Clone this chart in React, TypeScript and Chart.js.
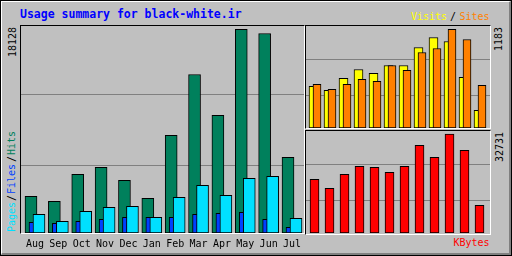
import React, { useEffect, useRef } from 'react';
import { Chart, registerables } from 'chart.js';

Chart.register(...registerables);

// ---------- data ----------
const months = ['Aug', 'Sep', 'Oct', 'Nov', 'Dec', 'Jan', 'Feb', 'Mar', 'Apr', 'May', 'Jun', 'Jul'];
const hits = [3263, 2818, 5218, 5841, 4685, 3085, 8685, 14108, 10464, 18128, 17753, 6730];
const files = [951, 862, 1040, 1218, 1396, 1396, 1396, 1662, 1751, 1840, 1218, 507];
const pages = [1662, 1040, 1929, 2285, 2374, 1396, 3174, 4241, 3352, 4863, 5041, 1307];
const visits = [498, 451, 594, 701, 654, 749, 749, 964, 1084, 1036, 606, 212];
const sites = [522, 462, 522, 582, 558, 749, 690, 905, 952, 1183, 1060, 510];
const kbytes = [17753, 14778, 19406, 22051, 21720, 20067, 22051, 28994, 25026, 32731, 27341, 9158];

const maxHits = Math.max(...hits);
const maxSites = Math.max(...sites, ...visits);
const maxKbytes = Math.max(...kbytes);

// ---------- style ----------
const GREY = '#C0C0C0';
const DKGREY = '#808080';
const C_HITS = '#00805C';
const C_FILES = '#0040FF';
const C_PAGES = '#00E0FF';
const C_VISITS = '#FFFF00';
const C_SITES = '#FF8000';
const C_KBYTES = '#FF0000';
const MONO = '"DejaVu Sans Mono", "Liberation Mono", monospace';

type Series = { label: string; values: number[]; color: string; shift: number; thickness: number; order: number };

function buildConfig(opts: {
  series: Series[];
  yMax: number;
  grid: number[];
  spacing: number;
  width: number;
  firstCenter: number;
  labelHeight?: number;
}): any {
  const { series, yMax, grid, spacing, width, firstCenter, labelHeight } = opts;
  const scales: any = {
    y: {
      type: 'linear',
      min: 0,
      max: yMax,
      display: true,
      offset: false,
      border: { display: false },
      grid: { color: DKGREY, lineWidth: 1, drawTicks: false },
      ticks: { display: false },
      afterBuildTicks: (axis: any) => {
        axis.ticks = grid.map((f) => ({ value: f * yMax }));
      },
      afterFit: (s: any) => {
        s.width = 0;
      },
    },
  };
  const datasets = series.map((s, k) => {
    const id = 'x' + k;
    const min = -(firstCenter + s.shift) / spacing;
    const showLabels = labelHeight !== undefined && s.shift === 0;
    scales[id] = {
      type: 'linear',
      position: 'bottom',
      offset: false,
      min,
      max: min + width / spacing,
      display: showLabels,
      grid: { display: false, offset: false },
      border: { display: false },
      afterBuildTicks: (axis: any) => {
        axis.ticks = months.map((_, i) => ({ value: i }));
      },
      ticks: {
        autoSkip: false,
        maxRotation: 0,
        minRotation: 0,
        padding: -3,
        color: '#000',
        font: { family: MONO, size: 10 },
        callback: (v: number) => months[v],
      },
      afterFit: (sc: any) => {
        if (showLabels) sc.height = labelHeight;
      },
    };
    return {
      label: s.label,
      data: s.values.map((v, i) => ({ x: i, y: v })),
      xAxisID: id,
      backgroundColor: s.color,
      borderColor: '#000',
      borderWidth: 1,
      borderSkipped: false,
      barThickness: s.thickness,
      order: s.order,
      grouped: false,
    };
  });
  return {
    type: 'bar',
    data: { datasets },
    options: {
      animation: false,
      responsive: false,
      maintainAspectRatio: false,
      devicePixelRatio: 1,
      layout: { padding: 0 },
      plugins: { legend: { display: false }, tooltip: { enabled: false }, title: { display: false } },
      scales,
    },
  };
}

function BarCanvas(props: { left: number; top: number; width: number; height: number; make: () => any }) {
  const ref = useRef<HTMLCanvasElement>(null);
  useEffect(() => {
    const chart = new Chart(ref.current as HTMLCanvasElement, props.make());
    return () => chart.destroy();
  }, []);
  return (
    <canvas
      ref={ref}
      width={props.width}
      height={props.height}
      style={{ position: 'absolute', left: props.left, top: props.top, width: props.width, height: props.height }}
    />
  );
}

function Panel(props: { left: number; top: number; width: number; height: number }) {
  return (
    <div
      style={{
        position: 'absolute',
        left: props.left,
        top: props.top,
        width: props.width,
        height: props.height,
        boxSizing: 'border-box',
        borderTop: '1px solid #000',
        borderLeft: '1px solid #000',
        borderRight: '1px solid #FFF',
        borderBottom: '1px solid #FFF',
        background: GREY,
      }}
    />
  );
}

function HText(props: { left: number; top: number; color: string; size?: number; bold?: boolean; children: any }) {
  const size = props.size ?? 10;
  return (
    <div
      style={{
        position: 'absolute',
        left: props.left,
        top: props.top,
        color: props.color,
        fontFamily: MONO,
        fontSize: size,
        lineHeight: size + 'px',
        fontWeight: props.bold ? 'bold' : 'normal',
        whiteSpace: 'nowrap',
      }}
    >
      {props.children}
    </div>
  );
}

function VText(props: { left: number; start: number; color: string; children: any }) {
  return (
    <div
      style={{
        position: 'absolute',
        left: props.left,
        top: props.start,
        color: props.color,
        fontFamily: MONO,
        fontSize: 10,
        lineHeight: '10px',
        whiteSpace: 'nowrap',
        transform: 'rotate(-90deg)',
        transformOrigin: '0 0',
      }}
    >
      {props.children}
    </div>
  );
}

export default function App() {
  return (
    <div style={{ position: 'fixed', left: 0, top: 0, width: 512, height: 256, background: GREY, overflow: 'hidden' }}>
      <div
        style={{ position: 'absolute', left: 0, top: 0, width: 512, height: 256, boxSizing: 'border-box', border: '1px solid #000' }}
      />
      <div
        style={{
          position: 'absolute',
          left: 1,
          top: 1,
          width: 510,
          height: 254,
          boxSizing: 'border-box',
          borderTop: '1px solid #FFF',
          borderLeft: '1px solid #FFF',
          borderRight: '2px solid ' + DKGREY,
          borderBottom: '2px solid ' + DKGREY,
        }}
      />

      <HText left={20} top={9} color="#0000FF" size={11.5} bold>
        Usage summary for black-white.ir
      </HText>
      <HText left={411} top={11.5} color={C_VISITS}>Visits</HText>
      <HText left={450} top={11.5} color="#000">/</HText>
      <HText left={459.5} top={11.5} color={C_SITES}>Sites</HText>

      <Panel left={20} top={25} width={285} height={209} />
      <Panel left={305} top={25} width={186} height={104} />
      <Panel left={305} top={130} width={186} height={105} />

      <BarCanvas
        left={21}
        top={26}
        width={283}
        height={230}
        make={() =>
          buildConfig({
            series: [
              { label: 'Hits', values: hits, color: C_HITS, shift: -4, thickness: 12, order: 3 },
              { label: 'Files', values: files, color: C_FILES, shift: 0, thickness: 12, order: 2 },
              { label: 'Pages', values: pages, color: C_PAGES, shift: 4, thickness: 12, order: 1 },
            ],
            yMax: 18420,
            grid: [0.3285, 0.6667],
            spacing: 23.364,
            width: 283,
            firstCenter: 14,
            labelHeight: 23,
          })
        }
      />
      <BarCanvas
        left={306}
        top={26}
        width={184}
        height={102}
        make={() =>
          buildConfig({
            series: [
              { label: 'Visits', values: visits, color: C_VISITS, shift: -1.5, thickness: 9, order: 2 },
              { label: 'Sites', values: sites, color: C_SITES, shift: 2, thickness: 8, order: 1 },
            ],
            yMax: 1222,
            grid: [0.3235, 0.6667],
            spacing: 15,
            width: 184,
            firstCenter: 9,
          })
        }
      />
      <BarCanvas
        left={306}
        top={131}
        width={184}
        height={102}
        make={() =>
          buildConfig({
            series: [{ label: 'KBytes', values: kbytes, color: C_KBYTES, shift: 0, thickness: 9, order: 1 }],
            yMax: 33723,
            grid: [0.3235, 0.6667],
            spacing: 15,
            width: 184,
            firstCenter: 8.5,
          })
        }
      />

      <VText left={8} start={57} color="#000">{String(maxHits)}</VText>
      <VText left={7} start={232} color={C_PAGES}>Pages</VText>
      <VText left={7} start={201} color="#000">/</VText>
      <VText left={7} start={194} color={C_FILES}>Files</VText>
      <VText left={7} start={162} color="#000">/</VText>
      <VText left={7} start={155} color={C_HITS}>Hits</VText>

      <VText left={494} start={51} color="#000">{String(maxSites)}</VText>
      <VText left={495} start={162} color="#000">{String(maxKbytes)}</VText>

      <HText left={453.5} top={238} color={C_KBYTES}>KBytes</HText>
    </div>
  );
}
